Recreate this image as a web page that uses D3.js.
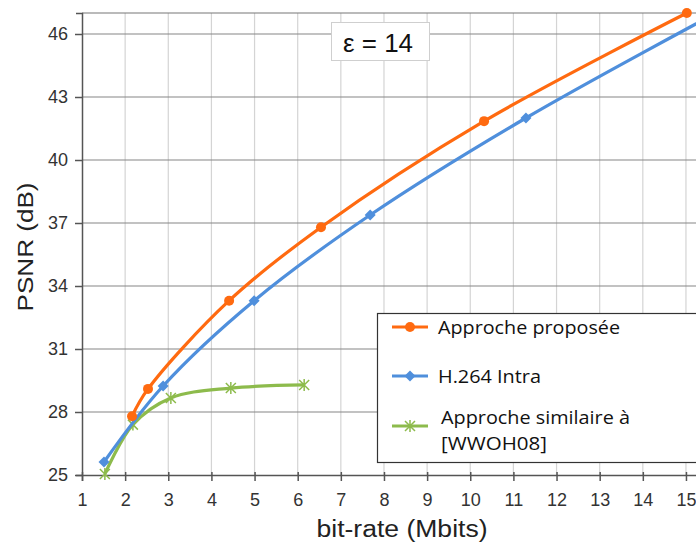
<!DOCTYPE html>
<html>
<head>
<meta charset="utf-8">
<script src="https://cdn.jsdelivr.net/npm/d3@7"></script>
<style>
  body { margin: 0; background: #fff; }
  svg { display: block; font-family: Arial, "Liberation Sans", sans-serif; }
</style>
</head>
<body>
<svg id="chart" width="696" height="543"></svg>
<script>
// values
let proposeeX = [2.16, 2.53, 4.41, 6.54, 10.32, 15.02];
let proposeeY = [27.8, 29.1, 33.3, 36.8, 41.85, 47.0];
let h264X = [1.51, 2.88, 4.99, 7.68, 11.29, 15.7];
let h264Y = [25.62, 29.24, 33.3, 37.38, 42.0, 47.0];
let similaireX = [1.53, 2.18, 3.06, 4.45, 6.15];
let similaireY = [25.05, 27.4, 28.67, 29.14, 29.29];
let yTicks = [25, 28, 31, 34, 37, 40, 43, 46];
let xTicks = [1, 2, 3, 4, 5, 6, 7, 8, 9, 10, 11, 12, 13, 14, 15];

let orange = "#ff6a10";
let blue = "#4f8fdc";
let green = "#8dbb4c";

let svg = d3.select("#chart");
let plotLeft = 82, plotTop = 13, plotBottom = 475;

let x = d3.scaleLinear().domain([1, 16]).range([plotLeft, plotLeft + 15 * 43.14]);
let y = d3.scaleLinear().domain([25, 47]).range([plotBottom, plotTop]);

let plotRight = x(16);

// vertical light grid
svg.append("g")
  .selectAll("line")
  .data(xTicks.slice(1).concat([16]))
  .join("line")
  .attr("x1", d => x(d)).attr("x2", d => x(d))
  .attr("y1", plotTop).attr("y2", plotBottom)
  .attr("stroke", "#d4d4d4")
  .attr("stroke-width", 1.2);

// horizontal major grid
svg.append("g")
  .selectAll("line")
  .data(yTicks.slice(1).concat([47]))
  .join("line")
  .attr("x1", plotLeft).attr("x2", plotRight)
  .attr("y1", d => y(d)).attr("y2", d => y(d))
  .attr("stroke", d => d === 47 ? "#777" : "#868686")
  .attr("stroke-width", 1.2);

// axes
let yAxis = svg.append("g")
  .attr("transform", `translate(${plotLeft},0)`)
  .call(d3.axisLeft(y).tickValues(yTicks).tickSize(6).tickPadding(8));
let xAxis = svg.append("g")
  .attr("transform", `translate(0,${plotBottom})`)
  .call(d3.axisBottom(x).tickValues(xTicks).tickSize(6).tickPadding(12));

[yAxis, xAxis].forEach(a => {
  a.select(".domain").attr("stroke", "#555").attr("stroke-width", 1.5);
  a.selectAll(".tick line").attr("stroke", "#555").attr("stroke-width", 1.5);
  a.selectAll(".tick text")
    .attr("fill", "#333")
    .style("font-size", "18px")
    .style("font-family", "Arial, 'Liberation Sans', sans-serif");
});
// ticks on the x axis go a bit both ways in the picture
xAxis.selectAll(".tick line").attr("y1", -3);
yAxis.selectAll(".tick line").attr("x2", -7);

// axis titles (the picture is a little stretched sideways)
svg.append("text")
  .attr("x", 402).attr("y", 537)
  .attr("text-anchor", "middle")
  .attr("fill", "#222")
  .attr("textLength", 171)
  .attr("lengthAdjust", "spacingAndGlyphs")
  .style("font-size", "23px")
  .text("bit-rate (Mbits)");

svg.append("text")
  .attr("transform", "translate(33,247) rotate(-90)")
  .attr("text-anchor", "middle")
  .attr("fill", "#222")
  .attr("textLength", 129)
  .attr("lengthAdjust", "spacingAndGlyphs")
  .style("font-size", "22px")
  .text("PSNR (dB)");

// series
let series = [
  { xs: proposeeX, ys: proposeeY, color: orange, marker: "circle" },
  { xs: h264X, ys: h264Y, color: blue, marker: "diamond" },
  { xs: similaireX, ys: similaireY, color: green, marker: "star" }
];

let line = d3.line()
  .x(d => x(d[0]))
  .y(d => y(d[1]))
  .curve(d3.curveCatmullRom.alpha(0.5));

function drawMarker(g, kind, color, cx, cy) {
  if (kind === "circle") {
    g.append("circle").attr("cx", cx).attr("cy", cy).attr("r", 5).attr("fill", color);
  } else if (kind === "diamond") {
    g.append("path")
      .attr("d", `M${cx},${cy - 5.5}L${cx + 5.5},${cy}L${cx},${cy + 5.5}L${cx - 5.5},${cy}Z`)
      .attr("fill", color);
  } else {
    let s = 5;
    g.append("path")
      .attr("d", `M${cx - s},${cy - s}L${cx + s},${cy + s}M${cx - s},${cy + s}L${cx + s},${cy - s}M${cx},${cy - s - 1}L${cx},${cy + s + 1}`)
      .attr("stroke", color).attr("stroke-width", 1.5).attr("fill", "none");
  }
}

let plot = svg.append("g");
series.slice().reverse().forEach(s => {
  let pts = s.xs.map((v, i) => [v, s.ys[i]]);
  plot.append("path")
    .attr("d", line(pts))
    .attr("fill", "none")
    .attr("stroke", s.color)
    .attr("stroke-width", 3.2)
    .attr("stroke-linejoin", "round");
  let mg = plot.append("g");
  pts.forEach(p => drawMarker(mg, s.marker, s.color, x(p[0]), y(p[1])));
});

// epsilon box
svg.append("rect")
  .attr("x", 331.5).attr("y", 22.5)
  .attr("width", 98).attr("height", 38)
  .attr("fill", "#fff")
  .attr("stroke", "#cfcfcf");
svg.append("text")
  .attr("x", 378).attr("y", 52)
  .attr("text-anchor", "middle")
  .attr("fill", "#111")
  .attr("textLength", 70)
  .attr("lengthAdjust", "spacingAndGlyphs")
  .style("font-size", "25px")
  .text("ε = 14");

// legend
let legendLabels = [["Approche proposée"], ["H.264 Intra"], ["Approche similaire à", "[WWOH08]"]];
let legendWidths = [[182], [103], [189, 106]];
let legend = svg.append("g");
legend.append("rect")
  .attr("x", 377.5).attr("y", 313.5)
  .attr("width", 340).attr("height", 149)
  .attr("fill", "#fff")
  .attr("stroke", "#333")
  .attr("stroke-width", 1.2);

let legendY = [327, 376, 426];
series.forEach((s, i) => {
  let ly = legendY[i];
  legend.append("line")
    .attr("x1", 392).attr("x2", 428)
    .attr("y1", ly).attr("y2", ly)
    .attr("stroke", s.color).attr("stroke-width", 3.2);
  drawMarker(legend, s.marker, s.color, 410, ly);
  let lines = legendLabels[i];
  let tx = i === 2 ? 441 : 438;
  let t0 = lines.length === 1 ? ly + 7 : ly - 2;
  lines.forEach((txt, j) => {
    legend.append("text")
      .attr("x", tx).attr("y", t0 + j * 26)
      .attr("fill", "#111")
      .attr("textLength", legendWidths[i][j])
      .attr("lengthAdjust", "spacingAndGlyphs")
      .style("font-size", "19px")
      .style("font-family", "'Open Sans', 'DejaVu Sans', sans-serif")
      .text(txt);
  });
});
</script>
</body>
</html>
